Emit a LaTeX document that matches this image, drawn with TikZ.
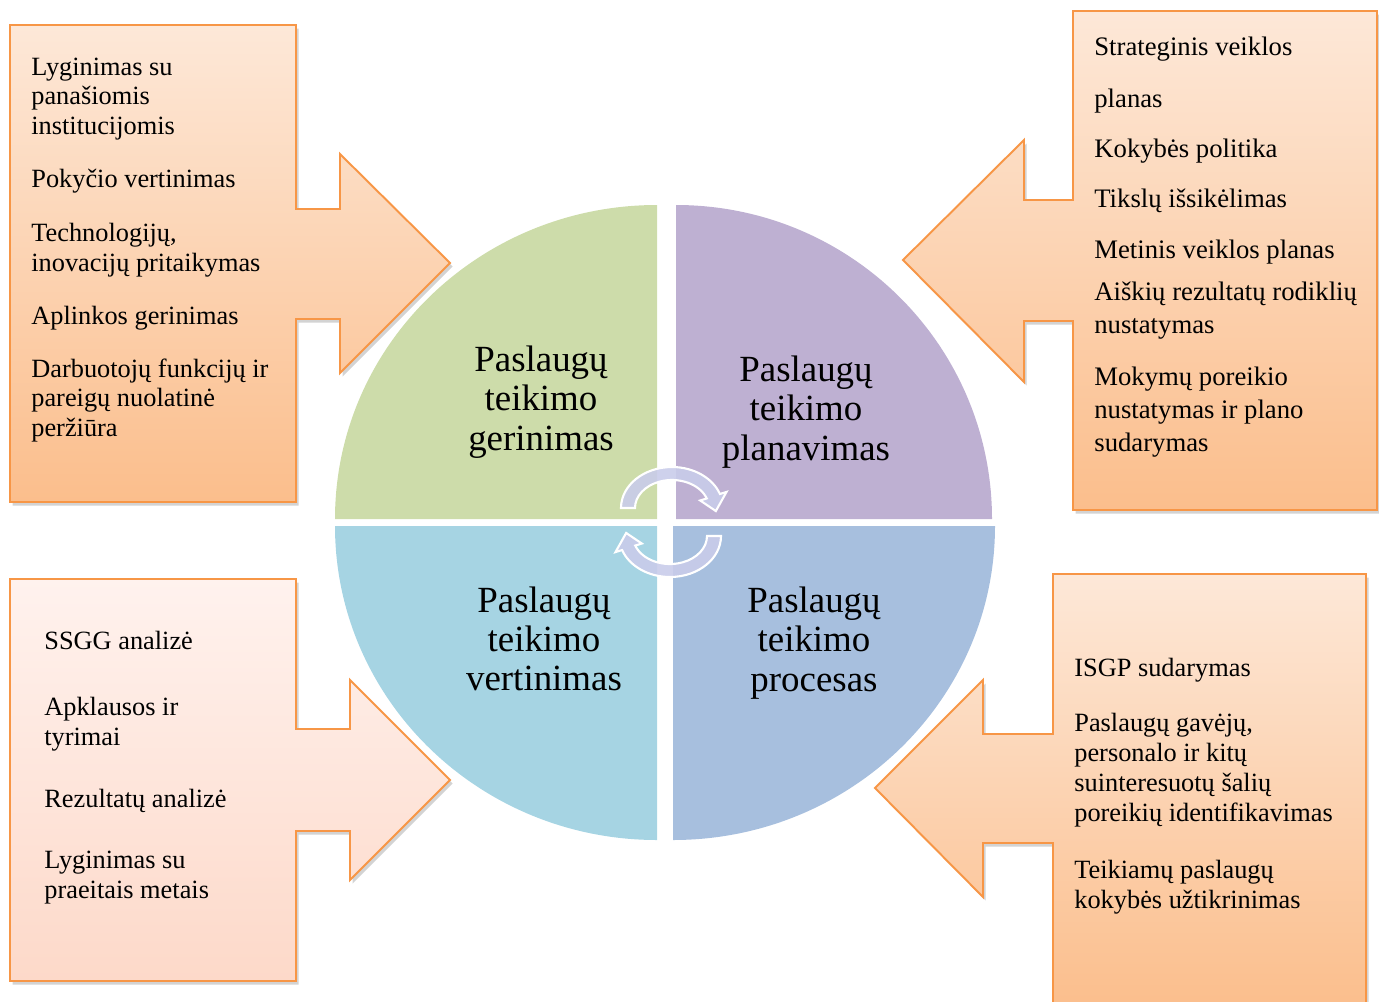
\documentclass[tikz,border=0pt]{standalone}
\usepackage{fontspec}
\setmainfont{Liberation Serif}
\usepackage{tikz}
\usetikzlibrary{shadows}
\definecolor{QGreen}{HTML}{CDDCAA}
\definecolor{QPurple}{HTML}{BEB0D2}
\definecolor{QCyan}{HTML}{A6D4E3}
\definecolor{QBlue}{HTML}{A7BFDE}
\definecolor{CalloutLine}{HTML}{F79646}
\definecolor{CalloutTop}{HTML}{FDE8D8}
\definecolor{CalloutBottom}{HTML}{FBBE8C}
\definecolor{PaleTop}{HTML}{FFF2EE}
\definecolor{PaleBottom}{HTML}{FDD9C9}
\definecolor{CycleFill}{HTML}{C9CCEA}
\colorlet{CycleLine}{white}
\tikzset{
    callout/.style = {
        draw         = CalloutLine,
        line width   = 1.1pt,
        top color    = CalloutTop,
        bottom color = CalloutBottom,
        drop shadow  = {shadow xshift = 1.5pt, shadow yshift = -2pt, opacity = 0.35},
    },
    callout pale/.style = {
        callout,
        top color    = PaleTop,
        bottom color = PaleBottom,
    },
    cycle arrow/.style = {
        fill         = CycleFill,
        fill opacity = 0.9,
        draw         = CycleLine,
        line width   = 1.2pt,
    },
}

\begin{document}
\begin{tikzpicture}[x = 0.02cm, y = -0.02cm]
    \useasboundingbox (0, 0) rectangle (1379, 1001);
    \clip (0, 0) rectangle (1379, 1001);

    \fill[QGreen]  (657, 519) -- (335, 519) arc[start angle = 180, end angle = 270, x radius = 322, y radius = 314] -- cycle;
    \fill[QPurple] (676, 519) -- (676, 205) arc[start angle = 270, end angle = 360, x radius = 316, y radius = 314] -- cycle;
    \fill[QCyan]   (657, 526) -- (335, 526) arc[start angle = 180, end angle = 90,  x radius = 322, y radius = 314] -- cycle;
    \fill[QBlue]   (673, 526) -- (995, 526) arc[start angle = 0,   end angle = 90,  x radius = 322, y radius = 314] -- cycle;

    \foreach \cx/\cy/\turn in {672/508/0, 670/536/180} {
        \begin{scope}[shift = {(\cx, \cy)}, rotate = \turn]
            \path[cycle arrow] (180:51 and 41)
                arc[start angle = 180, end angle = 340, x radius = 51, y radius = 41]
                -- (340:58 and 47) -- (5:44 and 35) -- (340:30 and 22) -- (340:37 and 28)
                arc[start angle = 340, end angle = 180, x radius = 37, y radius = 28]
                -- cycle;
        \end{scope}
    }

    \path[callout] (10, 25) -- (296, 25) -- (296, 209) -- (340, 209) -- (340, 154) -- (450, 263)
        -- (340, 373) -- (340, 319) -- (296, 319) -- (296, 502) -- (10, 502) -- cycle;
    \path[callout] (1377, 11) -- (1073, 11) -- (1073, 200) -- (1024, 200) -- (1024, 140) -- (903, 260)
        -- (1024, 382) -- (1024, 321) -- (1073, 321) -- (1073, 510) -- (1377, 510) -- cycle;
    \path[callout pale] (10, 579) -- (296, 579) -- (296, 729) -- (350, 729) -- (350, 680) -- (450, 780)
        -- (350, 880) -- (350, 831) -- (296, 831) -- (296, 981) -- (10, 981) -- cycle;
    \path[callout] (1366, 574) -- (1053, 574) -- (1053, 734) -- (983, 734) -- (983, 680) -- (875, 788)
        -- (983, 897) -- (983, 843) -- (1053, 843) -- (1053, 1010) -- (1366, 1010) -- cycle;

    \begin{scope}[
        every node/.style = {
            align     = center,
            inner sep = 0pt,
            font      = \fontsize{21}{22.3}\selectfont,
        }
    ]
        \node (improve) at (541, 402) {Paslaugų\\teikimo\\gerinimas};
        \node (plan)    at (806, 412) {Paslaugų\\teikimo\\planavimas};
        \node (assess)  at (544, 639) {Paslaugų\\teikimo\\vertinimas};
        \node (process) at (814, 643) {Paslaugų\\teikimo\\procesas};
    \end{scope}

    \begin{scope}[
        every node/.style = {
            anchor    = west,
            align     = left,
            inner sep = 0pt,
            font      = \fontsize{15}{17}\selectfont,
        }
    ]
        \node (improveA) at (31, 99)    {Lyginimas su\\panašiomis\\institucijomis};
        \node (improveB) at (31, 181)   {Pokyčio vertinimas};
        \node (improveC) at (31, 250.5) {Technologijų,\\inovacijų pritaikymas};
        \node (improveD) at (31, 318)   {Aplinkos gerinimas};
        \node (improveE) at (31, 400.5) {Darbuotojų funkcijų ir\\pareigų nuolatinė\\peržiūra};

        \node (assessA) at (44, 640)   {SSGG analizė};
        \node (assessB) at (44, 724)   {Apklausos ir\\tyrimai};
        \node (assessC) at (44, 801)   {Rezultatų analizė};
        \node (assessD) at (44, 877.5) {Lyginimas su\\praeitais metais};

        \node (processA) at (1074, 670) {ISGP sudarymas};
        \node (processB) at (1074, 770) {Paslaugų gavėjų,\\personalo ir kitų\\suinteresuotų šalių\\poreikių identifikavimas};
        \node (processC) at (1074, 887) {Teikiamų paslaugų\\kokybės užtikrinimas};
    \end{scope}

    \begin{scope}[
        every node/.style = {
            anchor    = west,
            align     = left,
            inner sep = 0pt,
            font      = \fontsize{15.2}{18.8}\selectfont,
        }
    ]
        \node (planA) at (1094, 49)    {Strateginis veiklos};
        \node (planB) at (1094, 101)   {planas};
        \node (planC) at (1094, 151)   {Kokybės politika};
        \node (planD) at (1094, 201)   {Tikslų išsikėlimas};
        \node (planE) at (1094, 252)   {Metinis veiklos planas};
        \node (planF) at (1094, 310.5) {Aiškių rezultatų rodiklių\\nustatymas};
        \node (planG) at (1094, 412)   {Mokymų poreikio\\nustatymas ir plano\\sudarymas};
    \end{scope}
\end{tikzpicture}
\end{document}
